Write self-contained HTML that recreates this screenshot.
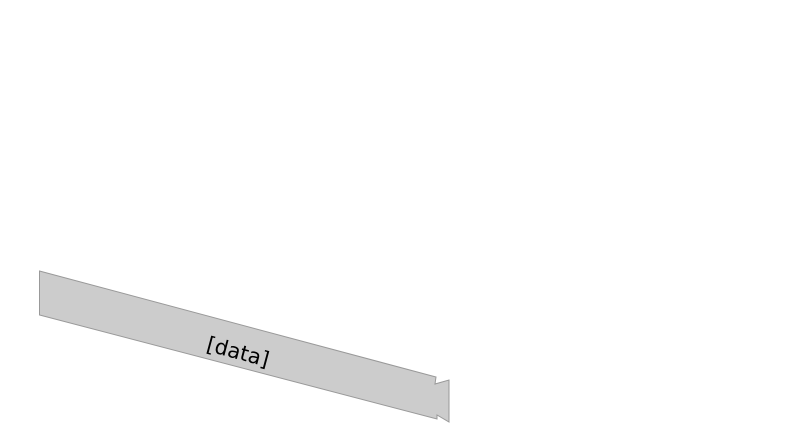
<!DOCTYPE html>
<html><head><style>html,body{margin:0;padding:0;background:#fff;width:800px;height:446px;overflow:hidden}</style></head>
<body>
<svg width="800" height="446" xmlns="http://www.w3.org/2000/svg">
<polygon points="39.5,271 436,377 435,384 449,380 449,422 437,415 437,419 39.5,315" fill="#cccccc" stroke="#999999" stroke-width="1"/>
<text x="238" y="359" font-family="DejaVu Sans, sans-serif" font-size="21" text-anchor="middle" fill="#000" transform="rotate(15 238 352)">[data]</text>
</svg>
</body></html>
